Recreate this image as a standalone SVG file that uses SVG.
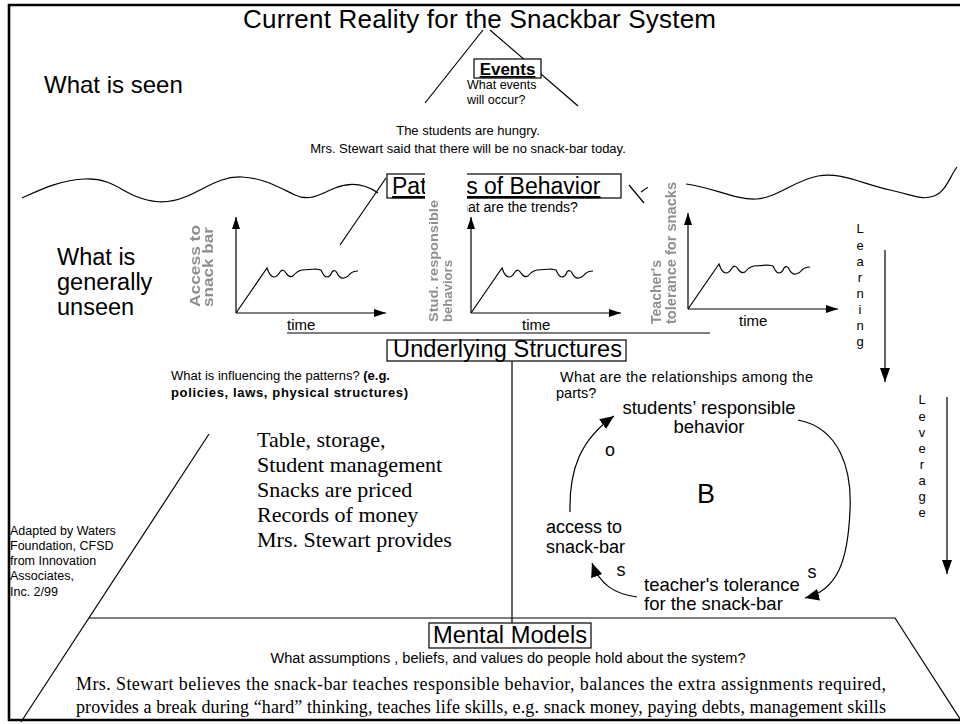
<svg xmlns="http://www.w3.org/2000/svg" width="960" height="724" viewBox="0 0 960 724">
  <style>
    .sans { font-family: "Liberation Sans", Arial, sans-serif; fill: #000; }
    .serif { font-family: "Liberation Serif", "Times New Roman", serif; fill: #000; }
    .ln { stroke: #000; stroke-width: 1.2; fill: none; }
    .frame { stroke: #000; stroke-width: 2.6; fill: none; }
    .box { stroke: #000; stroke-width: 1.2; fill: #fff; }
    .cover { fill: #fff; stroke: none; }
    .glabel { font-family: "Liberation Sans", Arial, sans-serif; font-weight: bold; fill: #8f8f8f; filter: url(#soft); }
  </style>
  <defs>
    <filter id="soft" x="-20%" y="-20%" width="140%" height="140%">
      <feGaussianBlur stdDeviation="0.6"/>
    </filter>
    <marker id="axhead" viewBox="0 0 12 8" refX="12" refY="4" markerWidth="12" markerHeight="8" markerUnits="userSpaceOnUse" orient="auto">
      <path d="M0,0 L12,4 L0,8 z" fill="#000"/>
    </marker>
    <marker id="loophead" viewBox="0 0 14 12" refX="14" refY="6" markerWidth="14" markerHeight="12" markerUnits="userSpaceOnUse" orient="auto">
      <path d="M0,0 L14,6 L0,12 z" fill="#000"/>
    </marker>
    <marker id="bighead" viewBox="0 0 14 10" refX="14" refY="5" markerWidth="14" markerHeight="10" markerUnits="userSpaceOnUse" orient="auto">
      <path d="M0,0 L14,5 L0,10 z" fill="#000"/>
    </marker>
    <!-- one trend chart: axes, time label and the rising, wobbling line -->
    <g id="chart">
      <path class="ln" d="M0,0 V-96" marker-end="url(#axhead)"/>
      <path class="ln" d="M0,0 H150" marker-end="url(#axhead)"/>
      <path class="ln" d="M0,0 L31,-45 Q34,-36 38,-36 Q41,-36 44,-41 Q47,-45 50,-40 Q53,-35 57,-37 Q61,-42 66,-43 L80,-44 L85,-43 Q88,-36 91,-36 Q94,-36 96,-41 Q99,-44 101,-40 Q104,-34 108,-35 Q112,-36 114,-39 Q117,-42 122,-42"/>
      <text class="sans" x="51" y="17" font-size="15">time</text>
    </g>
  </defs>

  <rect width="960" height="724" fill="#fff"/>

  <!-- title -->
  <text id="title" class="sans" x="243" y="28" font-size="26" textLength="473">Current Reality for the Snackbar System</text>

  <!-- level captions -->
  <text id="seen" class="sans" x="44" y="93" font-size="24">What is seen</text>
  <g id="unseen" class="sans" font-size="23.5">
    <text x="57" y="265">What is</text>
    <text x="57" y="290">generally</text>
    <text x="57" y="315">unseen</text>
  </g>

  <!-- events level -->
  <g id="events">
    <path class="ln" d="M483,30 L425,103 M490,30 L578,106"/>
    <rect class="box" x="474" y="59" width="67" height="19"/>
    <text class="sans" x="507.5" y="75" font-size="17" font-weight="bold" text-anchor="middle" text-decoration="underline">Events</text>
    <text class="sans" x="467" y="89" font-size="12.5">What events</text>
    <text class="sans" x="467" y="104" font-size="12.5">will occur?</text>
    <text class="sans" x="468" y="135" font-size="13" text-anchor="middle">The students are hungry.</text>
    <text class="sans" x="468" y="153" font-size="13" text-anchor="middle">Mrs. Stewart said that there will be no snack-bar today.</text>
  </g>

  <!-- waterline -->
  <g id="waterline">
    <path class="ln" d="M22,198 C40,190 60,180 85,179 S120,190 135,196 S165,205 185,197 S220,176 242,177 S280,188 295,195 S320,194 335,188 S365,184 378,193"/>
    <path class="ln" d="M686,184 C712,187 735,200 756,199 S795,180 818,176 S860,183 890,190 S922,200 934,196 S950,176 957,167"/>
    <path class="ln" d="M641,192 Q650,184 667,183"/>
  </g>

  <!-- patterns level -->
  <g id="patterns">
    <path class="ln" d="M386,178 L340,245"/>
    <path class="ln" d="M629,185 L644,203"/>
    <rect class="box" x="387" y="174" width="234" height="24"/>
    <text class="sans" x="392" y="194" font-size="23" text-decoration="underline">Patterns of Behavior</text>
    <text class="sans" x="447" y="212" font-size="14">What are the trends?</text>
  </g>

  <!-- trend charts -->
  <g id="chart-access">
    <use href="#chart" x="236" y="313"/>
    <text class="glabel" transform="translate(200,307) rotate(-90)" font-size="14" textLength="82" lengthAdjust="spacingAndGlyphs">Access to</text>
    <text class="glabel" transform="translate(213,307) rotate(-90)" font-size="14" textLength="80" lengthAdjust="spacingAndGlyphs">snack bar</text>
  </g>
  <g id="chart-responsible">
    <rect class="cover" x="425" y="168" width="42" height="160"/>
    <use href="#chart" x="471" y="313"/>
    <text class="glabel" transform="translate(438,322) rotate(-90)" font-size="13" textLength="122" lengthAdjust="spacingAndGlyphs">Stud. responsible</text>
    <text class="glabel" transform="translate(452,322) rotate(-90)" font-size="13" textLength="62" lengthAdjust="spacingAndGlyphs">behaviors</text>
  </g>
  <g id="chart-tolerance">
    <rect class="cover" x="648" y="176" width="36" height="152"/>
    <use href="#chart" x="688" y="309"/>
    <text class="glabel" transform="translate(661,324) rotate(-90)" font-size="14" textLength="64" lengthAdjust="spacingAndGlyphs">Teacher's</text>
    <text class="glabel" transform="translate(676,324) rotate(-90)" font-size="14" textLength="142" lengthAdjust="spacingAndGlyphs">tolerance for snacks</text>
  </g>
  <path class="ln" d="M287,333 H710"/>

  <!-- learning / leverage arrows -->
  <g id="learning" class="sans" font-size="13" text-anchor="middle">
    <text x="860" y="233">L</text>
    <text x="860" y="250">e</text>
    <text x="860" y="266">a</text>
    <text x="860" y="282">r</text>
    <text x="860" y="298">n</text>
    <text x="860" y="314">i</text>
    <text x="860" y="330">n</text>
    <text x="860" y="346">g</text>
    <path class="ln" d="M885,250 V382" marker-end="url(#bighead)"/>
  </g>
  <g id="leverage" class="sans" font-size="13" text-anchor="middle">
    <text x="922" y="404">L</text>
    <text x="922" y="421">e</text>
    <text x="922" y="437">v</text>
    <text x="922" y="453">e</text>
    <text x="922" y="469">r</text>
    <text x="922" y="485">a</text>
    <text x="922" y="501">g</text>
    <text x="922" y="517">e</text>
    <path class="ln" d="M947,397 V574" marker-end="url(#bighead)"/>
  </g>

  <!-- underlying structures level -->
  <g id="structures">
    <rect class="box" x="387" y="340" width="239" height="21"/>
    <text class="sans" x="393" y="357" font-size="23.5" textLength="229">Underlying Structures</text>
    <path class="ln" d="M512,361 V623"/>
    <text class="sans" x="171" y="380" font-size="13">What is influencing the patterns? <tspan font-weight="bold">(e.g.</tspan></text>
    <text class="sans" x="171" y="397" font-size="13" font-weight="bold" textLength="237">policies, laws, physical structures)</text>
    <text class="sans" x="560" y="382" font-size="14.5" textLength="253">What are the relationships among the</text>
    <text class="sans" x="556" y="398" font-size="14.5">parts?</text>
  </g>

  <g id="structure-list" class="serif" font-size="22">
    <text x="257" y="447">Table, storage,</text>
    <text x="257" y="472">Student management</text>
    <text x="257" y="497">Snacks are priced</text>
    <text x="257" y="522">Records of money</text>
    <text x="257" y="547">Mrs. Stewart provides</text>
  </g>

  <g id="credit" class="sans" font-size="12.5">
    <text x="10" y="535">Adapted by Waters</text>
    <text x="10" y="550">Foundation, CFSD</text>
    <text x="10" y="565">from Innovation</text>
    <text x="10" y="580">Associates,</text>
    <text x="10" y="596">Inc. 2/99</text>
  </g>

  <!-- causal loop -->
  <g id="node-responsible" class="sans" font-size="18.5" text-anchor="middle">
    <text x="709" y="414">students’ responsible</text>
    <text x="709" y="433">behavior</text>
  </g>
  <g id="node-access" class="sans" font-size="18">
    <text x="546" y="533">access to</text>
    <text x="546" y="553">snack-bar</text>
  </g>
  <g id="node-tolerance" class="sans" font-size="18.5">
    <text x="644" y="591">teacher's tolerance</text>
    <text x="644" y="610">for the snack-bar</text>
  </g>
  <g id="loop-links">
    <path class="ln" d="M570,512 C569,470 580,440 614,416" marker-end="url(#loophead)"/>
    <path class="ln" d="M798,420 C840,428 852,470 850,510 C848,560 838,590 805,598" marker-end="url(#loophead)"/>
    <path class="ln" d="M637,597 C615,594 600,585 592,563" marker-end="url(#loophead)"/>
    <text class="sans" x="610" y="456" font-size="18" text-anchor="middle">o</text>
    <text class="sans" x="621" y="576" font-size="18" text-anchor="middle">s</text>
    <text class="sans" x="812" y="578" font-size="18" text-anchor="middle">s</text>
    <text class="sans" x="706" y="503" font-size="27" text-anchor="middle">B</text>
  </g>

  <!-- mental models level -->
  <g id="mental-models">
    <path class="ln" d="M209,434 L21,722"/>
    <path class="ln" d="M89,618 H895 L962,722"/>
    <rect class="box" x="429" y="623" width="162" height="25"/>
    <text class="sans" x="433" y="643" font-size="23" textLength="154" lengthAdjust="spacingAndGlyphs">Mental Models</text>
    <text class="sans" x="508" y="663" font-size="14" text-anchor="middle" textLength="475" lengthAdjust="spacingAndGlyphs">What assumptions , beliefs, and values do people hold about the system?</text>
    <text class="serif" x="76" y="690" font-size="18" textLength="810">Mrs. Stewart believes the snack-bar teaches responsible behavior, balances the extra assignments required,</text>
    <text class="serif" x="76" y="713" font-size="18" textLength="810">provides a break during “hard” thinking, teaches life skills, e.g. snack money, paying debts, management skills</text>
  </g>

  <!-- page frame -->
  <path class="frame" d="M8,5 H960 M9,4 V721 M8,720 H960"/>
</svg>
